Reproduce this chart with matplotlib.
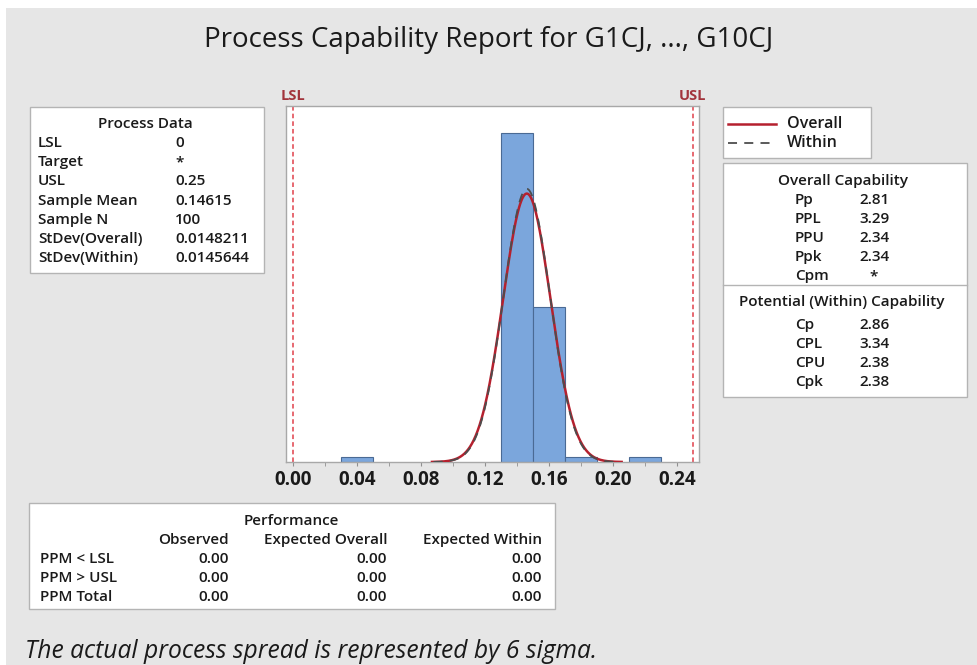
import numpy as np
import matplotlib
matplotlib.use("Agg")
import matplotlib.pyplot as plt
from matplotlib.patches import Rectangle

plt.rcParams['font.family'] = ['Open Sans', 'DejaVu Sans']

# --- data ---
bin_left = [0.03, 0.13, 0.15, 0.17, 0.21]
bin_counts = [1, 66, 31, 1, 1]
bin_width = 0.02
n_total = 100
lsl, usl = 0.0, 0.25
mean = 0.14615
sd_overall = 0.0148211
sd_within = 0.0145644
xticks = [0.00, 0.04, 0.08, 0.12, 0.16, 0.20, 0.24]

process_labels = ["LSL", "Target", "USL", "Sample Mean", "Sample N",
                  "StDev(Overall)", "StDev(Within)"]
process_values = ["0", "*", "0.25", "0.14615", "100", "0.0148211", "0.0145644"]

overall_labels = ["Pp", "PPL", "PPU", "Ppk", "Cpm"]
overall_values = ["2.81", "3.29", "2.34", "2.34", "*"]
within_labels = ["Cp", "CPL", "CPU", "Cpk"]
within_values = ["2.86", "3.34", "2.38", "2.38"]

perf_rows = ["PPM < LSL", "PPM > USL", "PPM Total"]
perf_cols = ["Observed", "Expected Overall", "Expected Within"]
perf_values = [["0.00", "0.00", "0.00"],
               ["0.00", "0.00", "0.00"],
               ["0.00", "0.00", "0.00"]]

W, H = 977, 665
BG = '#e6e6e6'
EDGE = '#b4b4b4'
TXT = '#1a1a1a'
RED = '#b5202e'
GRAY_LINE = '#4d4d4d'

fig = plt.figure(figsize=(W / 100, H / 100), dpi=100, facecolor='white')


def fx(px):
    return px / W


def fy(py):
    return 1 - py / H


def box(x0, y0, x1, y1):
    fig.add_artist(Rectangle((fx(x0), fy(y1)), fx(x1) - fx(x0), fy(y0) - fy(y1),
                             transform=fig.transFigure, facecolor='white',
                             edgecolor=EDGE, lw=1.0, zorder=1))


def hline(x0, x1, y, **kw):
    fig.add_artist(plt.Line2D([fx(x0), fx(x1)], [fy(y), fy(y)],
                              transform=fig.transFigure, zorder=2, **kw))


def txt(px, py, s, ha='left', **kw):
    kw.setdefault('fontsize', 11)
    kw.setdefault('fontweight', 'semibold')
    kw.setdefault('color', TXT)
    fig.text(fx(px), fy(py), s, ha=ha, va='center', zorder=3, **kw)


# gray report background
fig.add_artist(Rectangle((fx(6), 0), 1, fy(8), transform=fig.transFigure,
                         facecolor=BG, edgecolor='none', zorder=0))

txt(489, 40, "Process Capability Report for G1CJ, ..., G10CJ", ha='center',
    fontsize=20, fontweight='medium')

# --- histogram ---
ax = fig.add_axes([fx(286), fy(462), fx(699) - fx(286), fy(106) - fy(462)])
ax.set_facecolor('white')
dens = np.array(bin_counts) / (n_total * bin_width)
ax.bar(bin_left, dens, width=bin_width, align='edge', color='#7ba6dc',
       edgecolor='#4a6a94', lw=0.8, zorder=2)

xs = np.linspace(mean - 4 * sd_overall, mean + 4 * sd_overall, 300)
pdf_o = np.exp(-0.5 * ((xs - mean) / sd_overall) ** 2) / (sd_overall * np.sqrt(2 * np.pi))
xw = np.linspace(mean - 4 * sd_within, mean + 4 * sd_within, 300)
pdf_w = np.exp(-0.5 * ((xw - mean) / sd_within) ** 2) / (sd_within * np.sqrt(2 * np.pi))
ax.plot(xs, pdf_o, color=RED, lw=1.8, zorder=3)
ax.plot(xw, pdf_w, color=GRAY_LINE, lw=1.3, ls=(0, (5, 4)), zorder=4)

for v, name in [(lsl, 'LSL'), (usl, 'USL')]:
    ax.axvline(v, color='#e0404a', lw=1.1, ls=(0, (3, 2)), zorder=1)
    ax.text(v, 1.008, name, transform=ax.get_xaxis_transform(), ha='center',
            va='bottom', color='#a2343c', fontsize=10.5, fontweight='bold', clip_on=False)

ax.set_xlim(-0.0044, 0.2538)
ax.set_ylim(0, 35.7)
ax.set_yticks([])
ax.set_xticks(xticks)
ax.set_xticklabels(["%.2f" % t for t in xticks], fontsize=13.5, fontweight='bold', color=TXT)
ax.set_xticks(np.arange(0.02, 0.25, 0.04), minor=True)
ax.tick_params(axis='x', which='both', length=3, color='#909090', pad=3)
for s in ax.spines.values():
    s.set_color('#a8a8a8')
    s.set_linewidth(1.0)

# --- legend box ---
box(723, 107, 871, 158)
hline(728, 776, 124, color=RED, lw=1.8)
hline(728, 776, 143, color=GRAY_LINE, lw=1.3, ls=(0, (5, 4)))
txt(787, 124, "Overall", fontsize=11.5)
txt(787, 143, "Within", fontsize=11.5)

# --- Process Data box ---
box(30, 107, 264, 273)
txt(145, 124, "Process Data", ha='center')
for i, (lab, val) in enumerate(zip(process_labels, process_values)):
    y = 143 + i * 19.2
    txt(38, y, lab)
    txt(175, y, val)

# --- capability box ---
box(723, 163, 967, 397)
hline(723, 967, 285, color=EDGE, lw=1.0)
txt(843, 181, "Overall Capability", ha='center')
for i, (lab, val) in enumerate(zip(overall_labels, overall_values)):
    y = 200 + i * 19
    txt(795, y, lab)
    txt(874, y, val, ha='center')
txt(842, 302, "Potential (Within) Capability", ha='center')
for i, (lab, val) in enumerate(zip(within_labels, within_values)):
    y = 325 + i * 19
    txt(795, y, lab)
    txt(874, y, val, ha='center')

# --- performance box ---
box(29, 503, 555, 609)
txt(291, 521, "Performance", ha='center')
col_right = [229, 387, 542]
for c, name in zip(col_right, perf_cols):
    txt(c, 540, name, ha='right')
for r, row in enumerate(perf_rows):
    y = 559 + r * 19
    txt(40, y, row)
    for c, val in zip(col_right, perf_values[r]):
        txt(c, y, val, ha='right')

txt(25, 652, "The actual process spread is represented by 6 sigma.",
    fontsize=17.7, fontweight='normal', style='italic')

fig.savefig("out.png", dpi=100, facecolor=fig.get_facecolor())
